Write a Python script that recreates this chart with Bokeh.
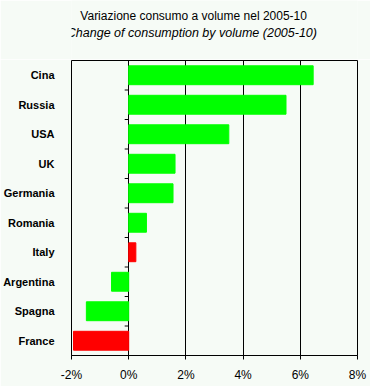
from bokeh.plotting import figure
from bokeh.layouts import column
from bokeh.models import Range1d, FixedTicker, PrintfTickFormatter, ColumnDataSource
from bokeh.core.properties import value
from bokeh.embed import file_html
from bokeh.resources import INLINE

# ---- data ----
countries = ["Cina", "Russia", "USA", "UK", "Germania", "Romania",
             "Italy", "Argentina", "Spagna", "France"]
changes = [6.45, 5.5, 3.5, 1.62, 1.55, 0.62, 0.25, -0.6, -1.48, -1.93]
highlighted = ["Italy", "France"]
x_ticks = [-2, 0, 2, 4, 6, 8]
title_it = "Variazione consumo a volume nel 2005-10"
title_en = "Change of  consumption by volume (2005-10)"

BG = "#f6fbf6"
W = 370
TH = 59
TITLE_X = W / 2 - 27
n = len(countries)
ypos = [n - 1 - i for i in range(n)]
colors = ["#ff0000" if c in highlighted else "#00ff00" for c in countries]
src = ColumnDataSource(dict(y=ypos, right=changes, left=[0] * n, color=colors))

# ---- title strip (pixel coordinates) ----
t = figure(width=W, height=TH, x_range=Range1d(0, W), y_range=Range1d(0, TH),
           output_backend="svg", toolbar_location=None,
           min_border_left=0, min_border_right=0, min_border_top=0, min_border_bottom=0,
           background_fill_color=BG, border_fill_color=BG)
t.axis.visible = False
t.grid.visible = False
t.outline_line_color = None
t.text(x=[TITLE_X], y=[TH - 15], text=[title_it], text_align="center",
       text_baseline="middle", text_font=value("Liberation Sans"),
       text_font_size="12px", text_color="black")
t.text(x=[TITLE_X], y=[TH - 32], text=[title_en], text_align="center",
       text_baseline="middle", text_font=value("Liberation Sans"),
       text_font_style="italic", text_font_size="12.5px", text_color="black")

# ---- main chart ----
p = figure(width=W, height=386 - TH, x_range=Range1d(x_ticks[0], x_ticks[-1]),
           y_range=Range1d(-0.5, n - 0.5), output_backend="svg",
           toolbar_location=None, min_border_left=70, min_border_right=13,
           min_border_bottom=31, min_border_top=1,
           background_fill_color=BG, border_fill_color=BG)
p.outline_line_color = "black"
p.outline_line_width = 1

p.hbar(y="y", left="left", right="right", height=0.64, color="color", source=src)

# category separator ticks on the zero line
bounds = [y + 0.5 for y in ypos[1:]]
tick_len = 0.14
p.segment(x0=[0] * len(bounds), x1=[-tick_len] * len(bounds), y0=bounds, y1=bounds,
          line_color="black", line_width=1)

# bottom axis
xa = p.xaxis[0]
xa.ticker = FixedTicker(ticks=x_ticks)
xa.formatter = PrintfTickFormatter(format="%d%%")
xa.major_tick_in = 0
xa.major_tick_out = 4
xa.minor_tick_line_color = None
xa.axis_line_color = "black"
xa.major_tick_line_color = "black"
xa.major_label_text_font = "Liberation Sans"
xa.major_label_text_font_size = "12px"
xa.major_label_text_color = "black"
xa.major_label_standoff = 8

# left category axis
ya = p.yaxis[0]
ya.ticker = FixedTicker(ticks=ypos)
ya.major_label_overrides = {y: c for y, c in zip(ypos, countries)}
ya.major_tick_line_color = None
ya.minor_tick_line_color = None
ya.axis_line_color = None
ya.major_label_text_font = "Liberation Sans"
ya.major_label_text_font_style = "bold"
ya.major_label_text_font_size = "11px"
ya.major_label_text_color = "black"
ya.major_label_standoff = 11

# grid
p.ygrid.grid_line_color = None
p.xgrid.ticker = FixedTicker(ticks=x_ticks)
p.xgrid.grid_line_color = "black"
p.xgrid.grid_line_alpha = 1.0

layout = column(t, p, spacing=0)
open("out.html", "w").write(file_html(layout, INLINE))
